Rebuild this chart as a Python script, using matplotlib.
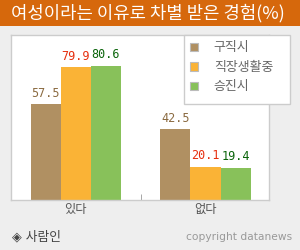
import matplotlib
matplotlib.use('Agg')
import matplotlib.pyplot as plt
import matplotlib.patches as mpatches
import numpy as np

plt.rcParams['font.family'] = ['Noto Sans CJK KR', 'DejaVu Sans']

title = '여성이라는 이유로 차별 받은 경험(%)'
categories = ['있다', '없다']
series = ['구직시', '직장생활중', '승진시']
values = [[57.5, 42.5],
          [79.9, 20.1],
          [80.6, 19.4]]
colors = ['#b09062', '#fab336', '#88c15a']
label_colors = ['#8a6a40', '#e62e0e', '#0a640a']

W, H = 300, 250
fig = plt.figure(figsize=(3, 2.5), dpi=100, facecolor='#eeeeee')

# title bar
fig.patches.append(mpatches.Rectangle((0, 1 - 26 / H), 1, 26 / H, transform=fig.transFigure,
                                      facecolor='#d6680c', edgecolor='none', zorder=0))
fig.text(11 / W, 1 - 13 / H, title, color='white', fontsize=12.8, va='center', ha='left')

ax = fig.add_axes([11 / W, 50 / H, 258 / W, 165 / H])
ax.set_facecolor('white')
x = np.arange(len(categories))
bw = 0.232
for i, s in enumerate(series):
    pos = x + (i - 1) * bw
    ax.bar(pos, values[i], width=bw, color=colors[i], label=s, zorder=2)
    for px, v in zip(pos, values[i]):
        ax.text(px, v + 2.5, f'{v:.1f}', ha='center', va='bottom', color=label_colors[i],
                fontsize=8.5, family='DejaVu Sans Mono')

ax.set_xlim(-0.5, 1.49)
ax.set_ylim(0, 99)
ax.set_yticks([])
ax.set_xticks(x)
ax.set_xticklabels(categories, fontsize=8.8, color='#555555')
ax.set_xticks([0.5], minor=True)
ax.tick_params(axis='x', which='major', length=0, pad=2)
ax.tick_params(axis='x', which='minor', length=4, color='#999999', direction='in')
for sp in ax.spines.values():
    sp.set_color('#cccccc')
    sp.set_linewidth(1)

# legend box
fig.patches.append(mpatches.Rectangle((184 / W, 1 - 104 / H), 106 / W, 69 / H, transform=fig.transFigure,
                                      facecolor='white', edgecolor='#cccccc', linewidth=1, zorder=3))
handles = [mpatches.Patch(facecolor=c, edgecolor='#bbbbbb', linewidth=0.8) for c in colors]
leg = fig.legend(handles, series, loc='upper left', bbox_to_anchor=(190 / W, 1 - 41.5 / H),
                 fontsize=9.3, frameon=False, borderaxespad=0, borderpad=0,
                 handlelength=0.62, handleheight=0.62, handletextpad=1.22,
                 labelspacing=0.5)
leg.set_zorder(5)
for t in leg.get_texts():
    t.set_color('#666666')

fig.text(12 / W, 13 / H, '◈ 사람인', fontsize=9.2, color='#444444', va='center', ha='left',
         family=['DejaVu Sans', 'Noto Sans CJK KR'])
fig.text(292 / W, 13 / H, 'copyright datanews', fontsize=7.7, color='#999999', va='center', ha='right',
         family='DejaVu Sans')

fig.savefig('out.png', dpi=100, facecolor=fig.get_facecolor())
